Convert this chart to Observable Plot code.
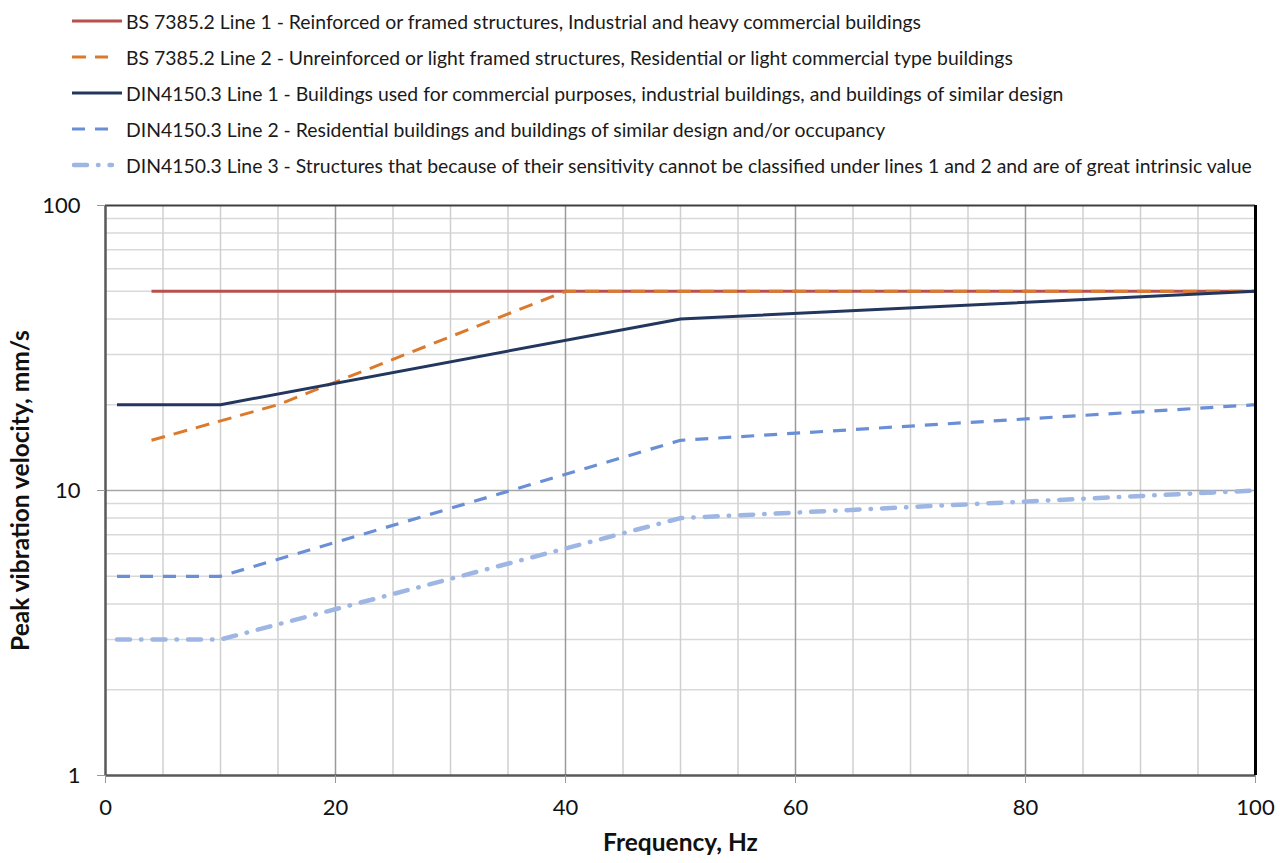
<!DOCTYPE html>
<html>
<head>
<meta charset="utf-8">
<script src="https://cdn.jsdelivr.net/npm/d3@7"></script>
<script src="https://cdn.jsdelivr.net/npm/@observablehq/plot@0.6"></script>
<style>
  html, body { margin: 0; padding: 0; background: #fff; }
  body { width: 1285px; height: 863px; overflow: hidden; font-family: Lato, "Open Sans", sans-serif; position: relative; }
  #legend { position: relative; height: 185px; }
  .row { position: absolute; left: 72px; height: 36px; display: flex; align-items: center; font-size: 19.4px; color: #1a1a1a; }
  .row svg { width: 54px; height: 10px; flex: none; }
  .row span { white-space: nowrap; }
</style>
</head>
<body>
<div id="legend"></div>
<div id="chart"></div>
<script>
// ---- data ----
const seriesNames = [
  "BS 7385.2 Line 1 - Reinforced or framed structures, Industrial and heavy commercial buildings",
  "BS 7385.2 Line 2 - Unreinforced or light framed structures, Residential or light commercial type buildings",
  "DIN4150.3 Line 1 - Buildings used for commercial purposes, industrial buildings, and buildings of similar design",
  "DIN4150.3 Line 2 - Residential buildings and buildings of similar design and/or occupancy",
  "DIN4150.3 Line 3 - Structures that because of their sensitivity cannot be classified under lines 1 and 2 and are of great intrinsic value"
];
const bs1Freq = [4, 100];
const bs1Vel  = [50, 50];
const bs2Freq = [4, 15, 40, 100];
const bs2Vel  = [15, 20, 50, 50];
const din1Freq = [1, 10, 50, 100];
const din1Vel  = [20, 20, 40, 50];
const din2Freq = [1, 10, 50, 100];
const din2Vel  = [5, 5, 15, 20];
const din3Freq = [1, 10, 50, 100];
const din3Vel  = [3, 3, 8, 10];

const xTicks = [0, 20, 40, 60, 80, 100];
const yTicks = [1, 10, 100];
const xLabel = "Frequency, Hz";
const yLabel = "Peak vibration velocity, mm/s";

// ---- styles ----
const styles = [
  {stroke: "#B8504D", width: 3, dash: null, cap: "butt", swEnd: 50},
  {stroke: "#DB7A2C", width: 3, dash: "14,9", cap: "butt", swEnd: 36},
  {stroke: "#23375E", width: 3, dash: null, cap: "butt", swEnd: 50},
  {stroke: "#6A8FD6", width: 3.2, dash: "13,10", cap: "butt", swEnd: 36},
  {stroke: "#9EB6E4", width: 4.5, dash: "13,11,0.5,11", cap: "round", swEnd: 40}
];

const series = [
  [bs1Freq, bs1Vel], [bs2Freq, bs2Vel], [din1Freq, din1Vel], [din2Freq, din2Vel], [din3Freq, din3Vel]
].map(([fx, vy], i) => fx.map((f, j) => ({series: i, f, v: vy[j]})));

// ---- legend ----
const legend = document.getElementById("legend");
seriesNames.forEach((name, i) => {
  const s = styles[i];
  const row = document.createElement("div");
  row.className = "row";
  row.style.top = (3 + i * 36) + "px";
  const x1 = s.cap === "round" ? 2 : 0;
  row.innerHTML = `<svg viewBox="0 0 54 10"><line x1="${x1}" y1="5" x2="${s.swEnd}" y2="5" stroke="${s.stroke}" stroke-width="${s.width}" ${s.dash ? `stroke-dasharray="${s.dash}"` : ""} stroke-linecap="${s.cap}"/></svg><span>${name}</span>`;
  legend.appendChild(row);
});

// ---- grid values ----
const minorY = [];
for (let d of [1, 10]) for (let k = 2; k <= 9; k++) minorY.push(d * k);
const minorX = d3.range(5, 100, 5).filter(v => v % 20 !== 0);
const majorX = [20, 40, 60, 80];

const marks = [
  Plot.ruleY(minorY, {stroke: "#d9d9d9", strokeWidth: 1.5}),
  Plot.ruleX(minorX, {stroke: "#d0d0d0", strokeWidth: 1.5}),
  Plot.ruleY([10], {stroke: "#a6a6a6", strokeWidth: 1.5}),
  Plot.ruleX(majorX, {stroke: "#9a9a9a", strokeWidth: 1.5}),
];
series.forEach((data, i) => {
  const s = styles[i];
  marks.push(Plot.line(data, {x: "f", y: "v", stroke: s.stroke, strokeWidth: s.width,
    strokeDasharray: s.dash || undefined, strokeLinecap: s.cap, strokeLinejoin: "round"}));
});
marks.push(
  Plot.ruleY([100], {stroke: "#404040", strokeWidth: 2}),
  Plot.ruleX([0], {stroke: "#595959", strokeWidth: 2.5}),
  Plot.ruleY([1], {stroke: "#595959", strokeWidth: 2.5}),
  Plot.ruleX([100], {stroke: "#000", strokeWidth: 3}),
  Plot.axisY(yTicks, {tickSize: 8, tickPadding: 17, stroke: "#999", fontSize: 22, tickFormat: d => String(d), label: null}),
  Plot.axisX(xTicks, {tickSize: 8, tickPadding: 16, stroke: "#999", fontSize: 22, tickFormat: d => String(d), label: null}),
  Plot.text([xLabel], {frameAnchor: "bottom", dy: 75, fontSize: 24.5, fontWeight: "bold", fill: "#111"}),
  Plot.text([yLabel], {frameAnchor: "left", textAnchor: "middle", dx: -84, rotate: -90, fontSize: 24.5, fontWeight: "bold", fill: "#111"})
);

const chart = Plot.plot({
  width: 1285,
  height: 678,
  marginTop: 20,
  marginBottom: 88,
  marginLeft: 105,
  marginRight: 30,
  style: {fontFamily: "Lato, 'Open Sans', sans-serif", color: "#111", fontSize: "22px", background: "#fff"},
  x: {domain: [0, 100]},
  y: {type: "log", domain: [1, 100]},
  marks
});
document.getElementById("chart").appendChild(chart);
</script>
</body>
</html>
